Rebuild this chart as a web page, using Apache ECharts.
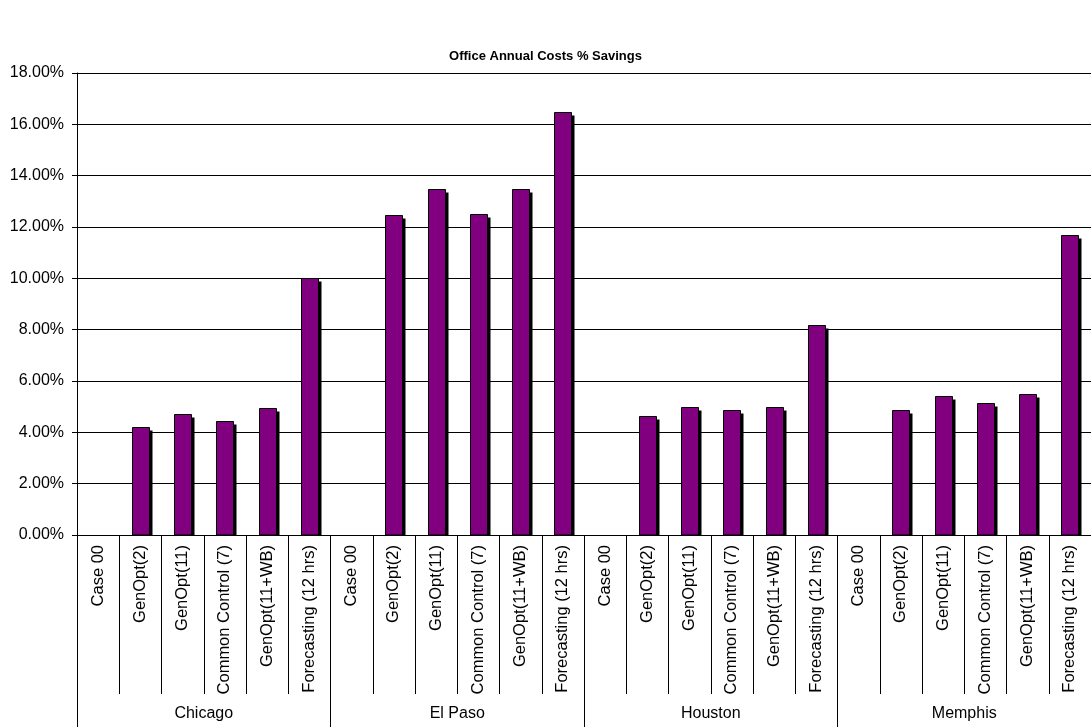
<!DOCTYPE html>
<html>
<head>
<meta charset="utf-8">
<title>Office Annual Costs % Savings</title>
<script src="https://cdn.jsdelivr.net/npm/echarts@6/dist/echarts.min.js"></script>
<style>
  html, body { margin: 0; padding: 0; background: #fff; }
  #chart { width: 1091px; height: 727px; }
</style>
</head>
<body>
<div id="chart"></div>
<script>
// Cities (outer category level) and control strategies (inner level)
const cities = ['Chicago', 'El Paso', 'Houston', 'Memphis'];
const cases = ['Case 00', 'GenOpt(2)', 'GenOpt(11)', 'Common Control (7)', 'GenOpt(11+WB)', 'Forecasting (12 hrs)'];

// Annual cost savings in percent, one array per city, in the order of `cases`
const chicago = [0, 4.20, 4.72, 4.45, 4.94, 10.00];
const elPaso  = [0, 12.45, 13.48, 12.52, 13.50, 16.50];
const houston = [0, 4.65, 5.00, 4.87, 5.00, 8.20];
const memphis = [0, 4.88, 5.42, 5.15, 5.48, 11.70];

// Value axis ticks
const yMin = 0, yMax = 18, yStep = 2;

const perCity = [chicago, elPaso, houston, memphis];
const innerLabels = [];
const points = [];
cities.forEach((c, i) => {
  cases.forEach((k, j) => {
    innerLabels.push(k);
    points.push([innerLabels.length - 1, perCity[i][j]]);
  });
});

const font = 'Liberation Sans, Arial, Helvetica, sans-serif';
const BAR_W = 17;   // bar body width in px
const SHADOW = 3;   // drop shadow offset in px

// Flat purple bar with a hard black drop shadow that stops at the baseline
function renderBar(params, api) {
  const v = api.value(1);
  if (!v) return null;
  const top = api.coord([api.value(0), v]);
  const base = api.coord([api.value(0), 0]);
  const x0 = Math.round(top[0] - BAR_W / 2) + 0.5;
  const y0 = Math.round(top[1]) + 0.5;
  const yb = Math.round(base[1]);
  return {
    type: 'group',
    children: [
      {
        type: 'rect',
        shape: { x: x0 + SHADOW, y: y0 + SHADOW, width: BAR_W, height: yb - y0 - SHADOW },
        style: { fill: '#000' }
      },
      {
        type: 'rect',
        shape: { x: x0, y: y0, width: BAR_W, height: yb - y0 },
        style: { fill: '#800080', stroke: '#000', lineWidth: 1 }
      }
    ]
  };
}

const chart = echarts.init(document.getElementById('chart'), null, { renderer: 'canvas' });

chart.setOption({
  animation: false,
  backgroundColor: '#fff',
  title: {
    text: 'Office Annual Costs % Savings',
    left: 'center',
    top: 45,
    textStyle: { fontFamily: font, fontSize: 13, fontWeight: 'bold', color: '#000' }
  },
  grid: { left: 77, top: 73, right: -4, bottom: 192, containLabel: false },
  xAxis: [
    {
      type: 'category',
      data: innerLabels,
      position: 'bottom',
      axisLine: { show: true, lineStyle: { color: '#000', width: 1 } },
      axisTick: { show: true, interval: 0, alignWithLabel: false, length: 159, lineStyle: { color: '#000', width: 1 } },
      axisLabel: { interval: 0, rotate: 90, margin: 10, fontFamily: font, fontSize: 16.5, color: '#000' },
      splitLine: { show: false }
    },
    {
      type: 'category',
      data: cities,
      position: 'bottom',
      axisLine: { show: false },
      axisTick: { show: true, interval: 0, alignWithLabel: false, length: 200, lineStyle: { color: '#000', width: 1 } },
      axisLabel: { interval: 0, margin: 171, fontFamily: font, fontSize: 16, color: '#000' },
      splitLine: { show: false }
    }
  ],
  yAxis: {
    type: 'value',
    min: yMin,
    max: yMax,
    interval: yStep,
    axisLine: { show: true, lineStyle: { color: '#000', width: 1 } },
    axisTick: { show: true, length: 5, lineStyle: { color: '#000', width: 1 } },
    axisLabel: {
      margin: 13,
      fontFamily: font,
      fontSize: 16,
      color: '#000',
      formatter: v => v.toFixed(2) + '%'
    },
    splitLine: { show: true, lineStyle: { color: '#000', width: 1 } }
  },
  series: [
    {
      type: 'custom',
      xAxisIndex: 0,
      yAxisIndex: 0,
      data: points,
      encode: { x: 0, y: 1 },
      renderItem: renderBar,
      silent: true,
      z: 3
    }
  ]
});
</script>
</body>
</html>
